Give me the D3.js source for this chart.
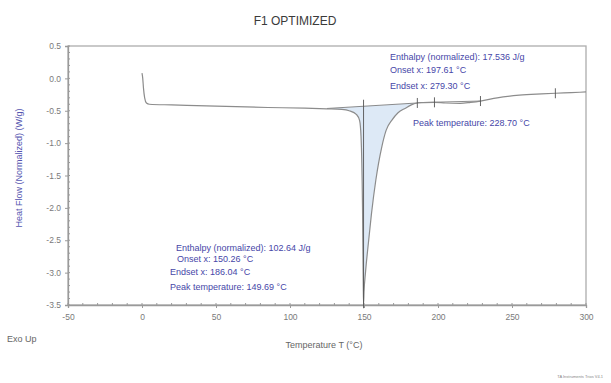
<!DOCTYPE html>
<html>
<head>
<meta charset="utf-8">
<script src="https://cdn.jsdelivr.net/npm/d3@7"></script>
<style>
  body { margin: 0; background: #fff; }
  svg { font-family: "Liberation Sans", Arial, sans-serif; }
</style>
</head>
<body>
<div class="chart"></div>
<script>
(function () {

  var width = 611, height = 383;
  var margin = { top: 46, right: 25, bottom: 78, left: 68 };

  // DSC trace (temperature in °C, heat flow in W/g)
  var temps = [0, 0.5, 1, 1.8, 3, 5, 20, 50, 85, 110, 125, 135, 140, 145, 147, 148, 149, 149.5, 149.69,
    150, 151, 152.7, 155, 158, 162, 165, 169, 173, 178, 182, 186.04, 190, 197.61, 205, 215, 222, 228.7,
    240, 255, 270, 279.3, 290, 300];
  var heatFlow = [0.08, 0.0, -0.15, -0.30, -0.38, -0.40, -0.41, -0.43, -0.45, -0.46, -0.47, -0.48, -0.50, -0.56, -0.65, -0.9, -2.0, -3.2, -3.48,
    -3.3, -3.0, -2.6, -2.1, -1.57, -1.06, -0.8, -0.64, -0.53, -0.46, -0.41, -0.38, -0.375, -0.37, -0.38, -0.385, -0.37, -0.35,
    -0.30, -0.26, -0.24, -0.23, -0.22, -0.21];

  // integration baselines
  var base1 = [[125, -0.465], [186.04, -0.38]];
  var base2 = [[186.04, -0.375], [228.7, -0.35]];
  var markerTemps = [186.04, 197.61, 228.7, 279.3];

  var xTicks = [-50, 0, 50, 100, 150, 200, 250, 300];
  var yTicks = [0.5, 0.0, -0.5, -1.0, -1.5, -2.0, -2.5, -3.0, -3.5];

  var notesTop = ["Enthalpy (normalized): 17.536 J/g", "Onset x: 197.61 °C", "Endset x: 279.30 °C"];
  var noteTopPeak = "Peak temperature: 228.70 °C";
  var notesBottom = ["Enthalpy (normalized): 102.64 J/g", "Onset x: 150.26 °C", "Endset x: 186.04 °C", "Peak temperature: 149.69 °C"];

  var svg = d3.select(".chart").append("svg")
    .attr("width", width)
    .attr("height", height);

  var x = d3.scaleLinear().domain([-50, 300]).range([margin.left, width - margin.right]);
  var y = d3.scaleLinear().domain([-3.5, 0.5]).range([height - margin.bottom, margin.top]);

  var data = temps.map(function (t, i) { return [t, heatFlow[i]]; });

  var axisColor = "#9a9a9a";
  var textBlue = "#4646a8";
  var hyphen = function (d, f) { return (d < 0 ? "-" : "") + f(Math.abs(d)); };

  // frame
  svg.append("rect")
    .attr("x", x(-50)).attr("y", y(0.5))
    .attr("width", x(300) - x(-50)).attr("height", y(-3.5) - y(0.5))
    .attr("fill", "none").attr("stroke", "#adadad").attr("stroke-width", 1.3);

  // minor ticks
  svg.append("g").selectAll("line")
    .data(d3.range(-50, 301, 10))
    .enter().append("line")
    .attr("x1", function (d) { return x(d); }).attr("x2", function (d) { return x(d); })
    .attr("y1", y(-3.5)).attr("y2", y(-3.5) - 2)
    .attr("stroke", axisColor);
  svg.append("g").selectAll("line")
    .data(d3.range(-35, 6, 1).map(function (d) { return d / 10; }))
    .enter().append("line")
    .attr("x1", x(-50)).attr("x2", x(-50) + 2)
    .attr("y1", function (d) { return y(d); }).attr("y2", function (d) { return y(d); })
    .attr("stroke", axisColor);

  // axes
  var xAxis = svg.append("g")
    .attr("transform", "translate(0," + y(-3.5) + ")")
    .call(d3.axisBottom(x).tickValues(xTicks).tickSize(3).tickPadding(6)
      .tickFormat(function (d) { return hyphen(d, d3.format("d")); }));
  var yAxis = svg.append("g")
    .attr("transform", "translate(" + x(-50) + ",0)")
    .call(d3.axisLeft(y).tickValues(yTicks).tickSize(3).tickPadding(4)
      .tickFormat(function (d) { return hyphen(d, d3.format(".1f")); }));
  [xAxis, yAxis].forEach(function (a) {
    a.select(".domain").attr("stroke", axisColor).attr("stroke-width", 1.3);
    a.selectAll(".tick line").attr("stroke", axisColor);
    a.selectAll("text").attr("fill", "#7a7a7a").style("font-size", "8.5px");
  });

  // fill under peak 1
  var fillTemps = data.filter(function (d) { return d[0] >= base1[0][0] && d[0] <= base1[1][0]; });
  var b1 = d3.scaleLinear().domain([base1[0][0], base1[1][0]]).range([base1[0][1], base1[1][1]]);
  svg.append("path")
    .datum(fillTemps)
    .attr("fill", "#dde9f6")
    .attr("d", d3.area()
      .x(function (d) { return x(d[0]); })
      .y0(function (d) { return y(b1(d[0])); })
      .y1(function (d) { return y(d[1]); })
      .curve(d3.curveMonotoneX));

  // baselines
  [base1, base2].forEach(function (b) {
    svg.append("line")
      .attr("x1", x(b[0][0])).attr("y1", y(b[0][1]))
      .attr("x2", x(b[1][0])).attr("y2", y(b[1][1]))
      .attr("stroke", "#6f6f6f").attr("stroke-width", 0.8);
  });

  // curve
  svg.append("path")
    .datum(data)
    .attr("fill", "none")
    .attr("stroke", "#8c8c8c")
    .attr("stroke-width", 1.2)
    .attr("d", d3.line()
      .x(function (d) { return x(d[0]); })
      .y(function (d) { return y(d[1]); })
      .curve(d3.curveMonotoneX));

  // peak marker
  svg.append("line")
    .attr("x1", x(149.69)).attr("x2", x(149.69))
    .attr("y1", y(-0.33)).attr("y2", y(-3.55))
    .attr("stroke", "#555").attr("stroke-width", 0.9);

  // cross markers
  var interp = d3.scaleLinear().domain(temps).range(heatFlow);
  svg.append("g").selectAll("line")
    .data(markerTemps)
    .enter().append("line")
    .attr("x1", function (d) { return x(d); }).attr("x2", function (d) { return x(d); })
    .attr("y1", function (d) { return y(interp(d)) - 5; })
    .attr("y2", function (d) { return y(interp(d)) + 5; })
    .attr("stroke", "#555").attr("stroke-width", 0.9);

  // annotations
  var noteTop = svg.append("g").attr("fill", textBlue).style("font-size", "9px");
  noteTop.append("text").attr("x", 390).attr("y", 60).text(notesTop[0]);
  noteTop.append("text").attr("x", 390).attr("y", 73).text(notesTop[1]);
  noteTop.append("text").attr("x", 390).attr("y", 89).text(notesTop[2]);
  noteTop.append("text").attr("x", 413).attr("y", 126).text(noteTopPeak);

  var noteBot = svg.append("g").attr("fill", textBlue).style("font-size", "9px");
  noteBot.append("text").attr("x", 176).attr("y", 251).text(notesBottom[0]);
  noteBot.append("text").attr("x", 177).attr("y", 262).text(notesBottom[1]);
  noteBot.append("text").attr("x", 170).attr("y", 275).text(notesBottom[2]);
  noteBot.append("text").attr("x", 170).attr("y", 290).text(notesBottom[3]);

  // titles
  svg.append("text")
    .attr("x", 295).attr("y", 25)
    .attr("text-anchor", "middle")
    .attr("fill", "#3a3a3a").style("font-size", "12px")
    .text("F1 OPTIMIZED");

  svg.append("text")
    .attr("x", 324).attr("y", 348)
    .attr("text-anchor", "middle")
    .attr("fill", "#666").style("font-size", "9px")
    .text("Temperature  T  (°C)");

  svg.append("text")
    .attr("transform", "translate(22,168) rotate(-90)")
    .attr("text-anchor", "middle")
    .attr("fill", "#5555b0").style("font-size", "9px")
    .text("Heat Flow (Normalized)  (W/g)");

  svg.append("text")
    .attr("x", 7).attr("y", 342)
    .attr("fill", "#666").style("font-size", "9px")
    .text("Exo Up");

  svg.append("text")
    .attr("x", 603).attr("y", 378)
    .attr("text-anchor", "end")
    .attr("fill", "#888").style("font-size", "4px")
    .text("TA Instruments Trios V4.1");

})();
</script>
</body>
</html>
